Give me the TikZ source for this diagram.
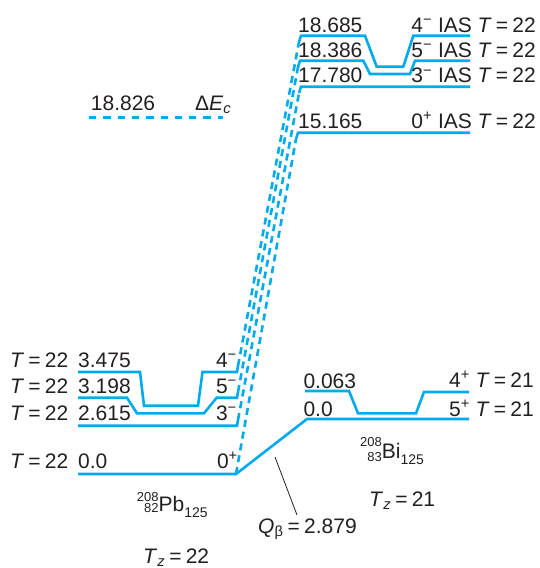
\documentclass[tikz,border=0pt]{standalone}
\usepackage{fontspec}
\setmainfont{Liberation Sans}
\definecolor{lvl}{RGB}{0,170,236}
\definecolor{ink}{RGB}{35,31,32}
\newcommand{\Teq}[1]{\textit{T}\hspace{0.2em}=\hspace{0.2em}#1}
\newcommand{\Tzeq}[1]{\textit{T}\textsubscript{\textit{z}}\hspace{0.2em}=\hspace{0.2em}#1}
\newcommand{\nucl}[6]{{\fontsize{13}{13}\selectfont\sbox0{#1}\hbox to \wd0{\hfill\raisebox{-#6}{#2}\raisebox{#5}{\llap{#1}}}}#3\raisebox{-6pt}{\fontsize{14}{14}\selectfont #4}}
\begin{document}
\begin{tikzpicture}[x=1pt,y=-1pt,
  font=\fontsize{21}{24}\selectfont,
  level/.style={draw=lvl, line width=2.6pt},
  link/.style={draw=lvl, line width=2.6pt, dash pattern=on 7pt off 5pt},
  txt/.style={inner sep=0pt, text=ink, anchor=base west},
  rtxt/.style={inner sep=0pt, text=ink, anchor=base east}]
\useasboundingbox (0,0) rectangle (540,568);

% ---- 208Pb levels ----
\draw[level] (78,372) -- (140,372) -- (144,405.7) -- (198,405.7) -- (202.5,372) -- (237,372) -- (238,366);
\draw[level] (78,397.7) -- (127,397.7) -- (137,413.3) -- (204,413.3) -- (216.7,397.7) -- (237,397.7) -- (238,392);
\draw[level] (78,425.7) -- (237,425.7) -- (238,420);
\draw[level] (78,474) -- (236,474) -- (307,419) -- (469,419);
% ---- 208Bi level 0.063 ----
\draw[level] (305,391) -- (349,391) -- (358,413.3) -- (416,413.3) -- (424,392) -- (469,392);
% ---- IAS levels ----
\draw[level] (299,42) -- (301,35.7) -- (365,35.7) -- (376.7,66.7) -- (403.3,66.7) -- (413.3,35.7) -- (470,35.7);
\draw[level] (298,67) -- (300,60.7) -- (363.3,60.7) -- (370,74) -- (410,74) -- (415,60.7) -- (470,60.7);
\draw[level] (299,93) -- (301,86.7) -- (470,86.7);
\draw[level] (296,139) -- (298,132.7) -- (470,132.7);

% connector ends
\coordinate (pbA) at (238,366);
\coordinate (pbB) at (238,392);
\coordinate (pbC) at (238,420);
\coordinate (pbD) at (236,474);
\coordinate (iasA) at (299,42);
\coordinate (iasB) at (298,67);
\coordinate (iasC) at (299,93);
\coordinate (iasD) at (296,139);
\draw[link] (pbA) -- (iasA);
\draw[link] (pbB) -- (iasB);
\draw[link] (pbC) -- (iasC);
\draw[link] (pbD) -- (iasD);

% Delta E_c
\coordinate (ecA) at (89,117.7);
\coordinate (ecB) at (223,117.7);
\draw[draw=lvl, line width=2.6pt, dash pattern=on 7.3pt off 7pt] (ecA) -- (ecB);
\node[txt] (ecv) at (90.7,110) {18.826};
\node[txt] (ecl) at (195,110) {Δ\textit{E}\textsubscript{\textit{c}}};

% Q beta pointer
\coordinate (qa) at (275,457);
\coordinate (qb) at (297,515);
\draw[ink, line width=0.8pt] (qa) -- (qb);

% ---- labels: IAS ----
\node[txt] (e1) at (298,32.5) {18.685};
\node[txt] (e2) at (298,57.3) {18.386};
\node[txt] (e3) at (298,82.7) {17.780};
\node[txt] (e4) at (298,128.3) {15.165};
\node[rtxt] (j1) at (536,32.5) {4\textsuperscript{−} IAS \Teq{22}};
\node[rtxt] (j2) at (536,57.3) {5\textsuperscript{−} IAS \Teq{22}};
\node[rtxt] (j3) at (536,82.7) {3\textsuperscript{−} IAS \Teq{22}};
\node[rtxt] (j4) at (536,128.3) {0\textsuperscript{+} IAS \Teq{22}};

% ---- labels: Pb ----
\node[txt] (t1) at (10,367) {\Teq{22}};
\node[txt] (t2) at (10,393.3) {\Teq{22}};
\node[txt] (t3) at (10,420) {\Teq{22}};
\node[txt] (t4) at (10,468.3) {\Teq{22}};
\node[txt] (p1) at (78,367) {3.475};
\node[txt] (p2) at (78,393.3) {3.198};
\node[txt] (p3) at (78,420) {2.615};
\node[txt] (p4) at (78,468.3) {0.0};
\node[rtxt] (s1) at (237,367) {4\textsuperscript{−}};
\node[rtxt] (s2) at (237,393.3) {5\textsuperscript{−}};
\node[rtxt] (s3) at (237,420) {3\textsuperscript{−}};
\node[rtxt] (s4) at (238,468.3) {0\textsuperscript{+}};

% ---- labels: Bi ----
\node[txt] (b1) at (303.3,388.3) {0.063};
\node[txt] (b2) at (303.3,416.7) {0.0};
\node[rtxt] (k1) at (534,387.3) {4\textsuperscript{+} \Teq{21}};
\node[rtxt] (k2) at (534,416) {5\textsuperscript{+} \Teq{21}};

% ---- nuclides and isospin ----
\node[txt] (bi) at (360,458) {\nucl{208}{83}{Bi}{125}{12pt}{3pt}};
\node[txt] (pb) at (136.7,511.7) {\nucl{208}{82}{Pb}{125}{10pt}{0.5pt}};
\node[txt] (tz21) at (369,506.7) {\Tzeq{21}};
\node[txt] (tz22) at (143,563) {\Tzeq{22}};
\node[txt] (qbeta) at (258,533) {\textit{Q}\textsubscript{β}\hspace{0.2em}=\hspace{0.2em}2.879};
\end{tikzpicture}
\end{document}
